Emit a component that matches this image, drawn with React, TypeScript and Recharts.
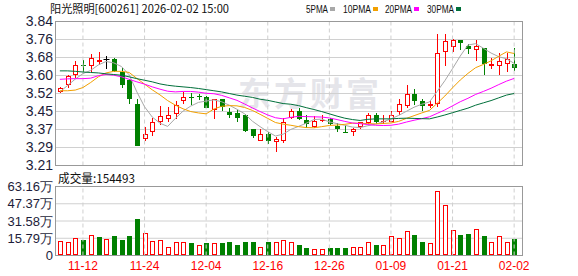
import React from 'react';
import { ComposedChart, Bar, Line, XAxis, YAxis, CartesianGrid, ReferenceLine } from 'recharts';

const dates = ['11-07','11-10','11-11','11-12','11-13','11-14','11-17','11-18','11-19','11-20','11-21','11-24','11-25','11-26','11-27','11-28','12-01','12-02','12-03','12-04','12-05','12-08','12-09','12-10','12-11','12-12','12-15','12-16','12-17','12-18','12-19','12-22','12-23','12-24','12-25','12-26','12-29','12-30','12-31','01-05','01-06','01-07','01-08','01-09','01-12','01-13','01-14','01-15','01-16','01-19','01-20','01-21','01-22','01-23','01-26','01-27','01-28','01-29','01-30','02-02'];

const opens = [3.532,3.561,3.608,3.651,3.647,3.664,3.674,3.675,3.619,3.583,3.479,3.326,3.358,3.402,3.412,3.434,3.492,3.510,3.512,3.510,3.452,3.500,3.442,3.441,3.431,3.370,3.319,3.348,3.312,3.319,3.419,3.448,3.409,3.380,3.404,3.412,3.384,3.358,3.358,3.380,3.394,3.431,3.399,3.402,3.442,3.471,3.521,3.492,3.471,3.479,3.706,3.728,3.757,3.735,3.717,3.725,3.645,3.645,3.656,3.653];
const highs = [3.554,3.605,3.666,3.670,3.696,3.707,3.688,3.682,3.638,3.590,3.503,3.377,3.419,3.471,3.467,3.492,3.532,3.528,3.525,3.513,3.503,3.500,3.460,3.452,3.434,3.370,3.370,3.358,3.336,3.416,3.455,3.460,3.431,3.428,3.431,3.416,3.394,3.387,3.373,3.402,3.438,3.438,3.431,3.448,3.500,3.561,3.544,3.500,3.496,3.786,3.786,3.765,3.760,3.743,3.757,3.725,3.682,3.704,3.704,3.725];
const lows = [3.529,3.551,3.593,3.619,3.619,3.648,3.634,3.619,3.547,3.479,3.297,3.319,3.341,3.387,3.402,3.412,3.477,3.474,3.495,3.460,3.412,3.448,3.416,3.402,3.355,3.332,3.319,3.304,3.267,3.307,3.412,3.409,3.373,3.376,3.402,3.387,3.358,3.351,3.341,3.370,3.390,3.390,3.392,3.399,3.431,3.463,3.474,3.448,3.460,3.467,3.646,3.706,3.714,3.699,3.666,3.605,3.634,3.605,3.617,3.624];
const closes = [3.551,3.602,3.651,3.645,3.682,3.672,3.674,3.624,3.561,3.503,3.297,3.348,3.399,3.428,3.431,3.474,3.510,3.506,3.508,3.463,3.500,3.467,3.431,3.419,3.361,3.341,3.348,3.319,3.326,3.399,3.448,3.412,3.390,3.406,3.409,3.390,3.370,3.354,3.368,3.399,3.431,3.402,3.406,3.431,3.477,3.521,3.492,3.471,3.481,3.704,3.755,3.760,3.747,3.718,3.735,3.653,3.656,3.666,3.675,3.637];
// volume in 万
const volumes = [13.7,12.8,15.6,14.6,19.2,16.6,15.3,17.4,14.6,18.3,33.0,20.8,13.7,14.6,8.2,12.8,11.9,11.0,10.0,11.0,11.0,11.0,11.9,9.2,11.9,11.9,8.2,12.8,12.8,14.3,12.8,9.2,7.3,6.4,6.4,7.3,7.3,7.3,8.2,8.2,11.9,10.0,10.0,17.4,15.6,22.0,19.2,11.9,11.0,58.6,45.8,22.9,19.2,20.1,23.8,18.3,12.8,18.3,11.9,15.4493];

const ma5 = [3.532,3.560,3.588,3.612,3.626,3.650,3.665,3.659,3.643,3.607,3.532,3.467,3.422,3.395,3.381,3.416,3.448,3.470,3.486,3.492,3.497,3.489,3.474,3.456,3.436,3.404,3.380,3.358,3.339,3.347,3.368,3.381,3.395,3.411,3.413,3.401,3.393,3.386,3.378,3.376,3.384,3.391,3.401,3.414,3.429,3.447,3.465,3.478,3.488,3.534,3.581,3.634,3.689,3.737,3.743,3.723,3.702,3.686,3.677,3.657];
const ma10 = [3.537,3.537,3.540,3.551,3.573,3.598,3.615,3.622,3.622,3.617,3.591,3.566,3.541,3.519,3.494,3.474,3.458,3.446,3.440,3.436,3.457,3.469,3.472,3.471,3.464,3.451,3.434,3.416,3.398,3.391,3.386,3.380,3.376,3.375,3.380,3.385,3.387,3.390,3.395,3.395,3.393,3.392,3.394,3.396,3.403,3.416,3.428,3.440,3.451,3.482,3.514,3.550,3.584,3.613,3.638,3.652,3.668,3.688,3.707,3.700];
const ma20 = [3.587,3.589,3.590,3.590,3.592,3.603,3.608,3.605,3.598,3.587,3.576,3.566,3.554,3.544,3.535,3.532,3.534,3.534,3.531,3.526,3.524,3.517,3.506,3.495,3.479,3.462,3.446,3.431,3.419,3.414,3.421,3.425,3.424,3.423,3.422,3.418,3.411,3.403,3.396,3.393,3.389,3.386,3.385,3.386,3.391,3.400,3.408,3.415,3.423,3.438,3.453,3.471,3.489,3.504,3.521,3.534,3.548,3.564,3.579,3.591];
const ma30 = [3.624,3.624,3.622,3.619,3.617,3.615,3.611,3.608,3.605,3.598,3.590,3.583,3.576,3.567,3.561,3.557,3.554,3.551,3.547,3.542,3.537,3.532,3.525,3.518,3.513,3.508,3.500,3.495,3.488,3.481,3.478,3.472,3.463,3.455,3.446,3.436,3.426,3.417,3.411,3.407,3.412,3.414,3.414,3.414,3.416,3.417,3.416,3.415,3.414,3.422,3.431,3.441,3.451,3.461,3.474,3.484,3.494,3.506,3.518,3.525];

const xTicks = ['11-12','11-24','12-04','12-16','12-26','01-09','01-21','02-02'];
const priceDomain = [3.21, 3.84];
const priceLabels = ['3.21','3.29','3.37','3.45','3.52','3.60','3.68','3.76','3.84'];
const volDomain = [0, 63.16];
const volTicks = [0, 15.79, 31.58, 47.37, 63.16];
const volLabels = ['0','15.79万','31.58万','47.37万','63.16万'];

const stockTitle = '阳光照明[600261] 2026-02-02 15:00';
const legendItems = [
  { name: '5PMA', color: '#a8a8a8' },
  { name: '10PMA', color: '#f2a000' },
  { name: '20PMA', color: '#ff00ff' },
  { name: '30PMA', color: '#006f3a' },
];

const RED = '#ff0000';
const GREEN = '#008000';

const data = dates.map((date, i) => ({
  date,
  open: opens[i],
  high: highs[i],
  low: lows[i],
  close: closes[i],
  volume: volumes[i],
  volUp: i === 0 ? true : closes[i] >= closes[i - 1],
  ma5: ma5[i],
  ma10: ma10[i],
  ma20: ma20[i],
  ma30: ma30[i],
}));

const priceTicks = priceLabels.map((_, i) => priceDomain[0] + ((priceDomain[1] - priceDomain[0]) * i) / (priceLabels.length - 1));

function Candle(props: any) {
  const { x, y, width, height, payload } = props;
  if (!payload) return null;
  const { open, close, high, low } = payload;
  const top = Math.min(y, y + height);
  const h = Math.abs(height);
  const k = high > low ? h / (high - low) : 0;
  const py = (v: number) => top + (high - v) * k;
  const cx = Math.round(x + width / 2) + 0.5;
  const yH = Math.round(py(high));
  const yL = Math.round(py(low));
  const yTop = Math.round(py(Math.max(open, close)));
  const yBot = Math.round(py(Math.min(open, close)));
  if (close > open) {
    if (yBot - yTop < 2) {
      return (
        <g>
          <line x1={cx} x2={cx} y1={yH} y2={yL} stroke={RED} />
          <rect x={cx - 2.5} y={yTop} width={5} height={Math.max(yBot - yTop, 1)} fill={RED} />
        </g>
      );
    }
    return (
      <g>
        <line x1={cx} x2={cx} y1={yH} y2={yTop} stroke={RED} />
        <line x1={cx} x2={cx} y1={yBot} y2={yL} stroke={RED} />
        <rect x={cx - 2} y={yTop + 0.5} width={4} height={yBot - yTop - 1} fill="#fff" stroke={RED} />
      </g>
    );
  }
  if (close < open) {
    return (
      <g>
        <line x1={cx} x2={cx} y1={yH} y2={yL} stroke={GREEN} />
        <rect x={cx - 2.5} y={yTop} width={5} height={Math.max(yBot - yTop, 1)} fill={GREEN} />
      </g>
    );
  }
  return (
    <g>
      <line x1={cx} x2={cx} y1={yH} y2={yL} stroke="#000" />
      <line x1={cx - 3} x2={cx + 3} y1={yTop + 0.5} y2={yTop + 0.5} stroke="#000" />
    </g>
  );
}

function VolBar(props: any) {
  const { x, y, width, height, payload } = props;
  if (!payload) return null;
  const cx = Math.round(x + width / 2) + 0.5;
  const top = Math.round(Math.min(y, y + height));
  const bot = Math.floor(Math.max(y, y + height));
  if (payload.volUp) {
    return <rect x={cx - 2} y={top + 0.5} width={4} height={Math.max(bot - top - 1, 0)} fill="#fff" stroke={RED} />;
  }
  return <rect x={cx - 2.5} y={top} width={5} height={bot - top} fill={GREEN} />;
}

const axisFont = 'Liberation Sans, Arial, sans-serif';

export default function App() {
  const layer: React.CSSProperties = { position: 'absolute', left: 0, top: 0 };
  return (
    <div style={{ position: 'absolute', left: 0, top: 0, width: 578, height: 276, background: '#fff', overflow: 'hidden' }}>
      <svg width={578} height={276} style={layer}>
        <text x={238} y={106} fontSize={33} fontWeight="bold" fill="#e5e5ea" letterSpacing={3} fontFamily="Noto Sans CJK SC">东方财富</text>
      </svg>
      <div style={layer}>
        <ComposedChart width={578} height={276} data={data} margin={{ top: 21.5, right: 56, bottom: 110.5, left: 0 }} barCategoryGap={0}>
          <CartesianGrid horizontal vertical={false} stroke="#d0d0d0" />
          <XAxis dataKey="date" hide padding={{ left: 0, right: 4 }} />
          <YAxis
            domain={priceDomain}
            ticks={priceTicks}
            type="number"
            width={56}
            tickLine={false}
            axisLine={false}
            tickSize={0}
            tickMargin={3}
            interval={0}
            tickFormatter={(v: number) => priceLabels[priceTicks.findIndex((t) => Math.abs(t - v) < 1e-6)] ?? ''}
            tick={{ fontSize: 14, fill: '#1d1d3a', fontFamily: axisFont }}
          />
          {xTicks.map((d) => (
            <ReferenceLine key={d} x={d} stroke="#cfcfcf" strokeDasharray="4 3" />
          ))}
          <Bar dataKey={(d: any) => [d.low, d.high]} shape={<Candle />} isAnimationActive={false} />
          <Line type="linear" dataKey="ma5" stroke={legendItems[0].color} strokeWidth={1} dot={false} activeDot={false} isAnimationActive={false} />
          <Line type="linear" dataKey="ma10" stroke={legendItems[1].color} strokeWidth={1} dot={false} activeDot={false} isAnimationActive={false} />
          <Line type="linear" dataKey="ma20" stroke={legendItems[2].color} strokeWidth={1} dot={false} activeDot={false} isAnimationActive={false} />
          <Line type="linear" dataKey="ma30" stroke={legendItems[3].color} strokeWidth={1} dot={false} activeDot={false} isAnimationActive={false} />
        </ComposedChart>
      </div>
      <div style={layer}>
        <ComposedChart width={578} height={276} data={data} margin={{ top: 186.5, right: 56, bottom: 0, left: 0 }} barCategoryGap={0}>
          <CartesianGrid horizontal vertical={false} stroke="#d0d0d0" />
          <XAxis
            dataKey="date"
            height={20.5}
            padding={{ left: 0, right: 4 }}
            ticks={xTicks}
            interval={0}
            tickLine={false}
            axisLine={false}
            tickSize={0}
            tickMargin={6}
            tick={{ fontSize: 12, fill: RED, fontFamily: axisFont }}
          />
          <YAxis
            domain={volDomain}
            ticks={volTicks}
            type="number"
            width={56}
            tickLine={false}
            axisLine={false}
            tickSize={0}
            tickMargin={3}
            interval={0}
            tickFormatter={(v: number) => volLabels[volTicks.indexOf(v)] ?? ''}
            tick={{ fontSize: 13, fill: '#1d1d3a', fontFamily: axisFont }}
          />
          {xTicks.map((d) => (
            <ReferenceLine key={d} x={d} stroke="#cfcfcf" strokeDasharray="4 3" />
          ))}
          <Bar dataKey="volume" shape={<VolBar />} isAnimationActive={false} />
        </ComposedChart>
      </div>
      <svg width={578} height={276} style={{ ...layer, pointerEvents: 'none' }}>
        <rect x={55.5} y={21.5} width={467} height={144} fill="none" stroke="#999" />
        <rect x={55.5} y={186.5} width={467} height={69} fill="none" stroke="#999" />
        <text x={50} y={13} fontSize={11.5} fill="#111" fontFamily="Noto Sans CJK SC" textLength={179} lengthAdjust="spacingAndGlyphs">{stockTitle}</text>
        {legendItems.map((it, i) => {
          const xs = [306, 343, 385, 427];
          const ws = [22, 28, 27, 27];
          return (
            <g key={it.name}>
              <text x={xs[i]} y={13} fontSize={10.5} fill="#111" fontFamily={axisFont} textLength={ws[i]} lengthAdjust="spacingAndGlyphs">{it.name}</text>
              <rect x={xs[i] + ws[i] + 2} y={7} width={5} height={4} fill={it.color} />
            </g>
          );
        })}
        <text x={58} y={183} fontSize={12} fill="#111" fontFamily="Noto Sans CJK SC" textLength={77} lengthAdjust="spacingAndGlyphs">{'成交量:' + Math.round(volumes[volumes.length - 1] * 10000)}</text>
      </svg>
    </div>
  );
}
